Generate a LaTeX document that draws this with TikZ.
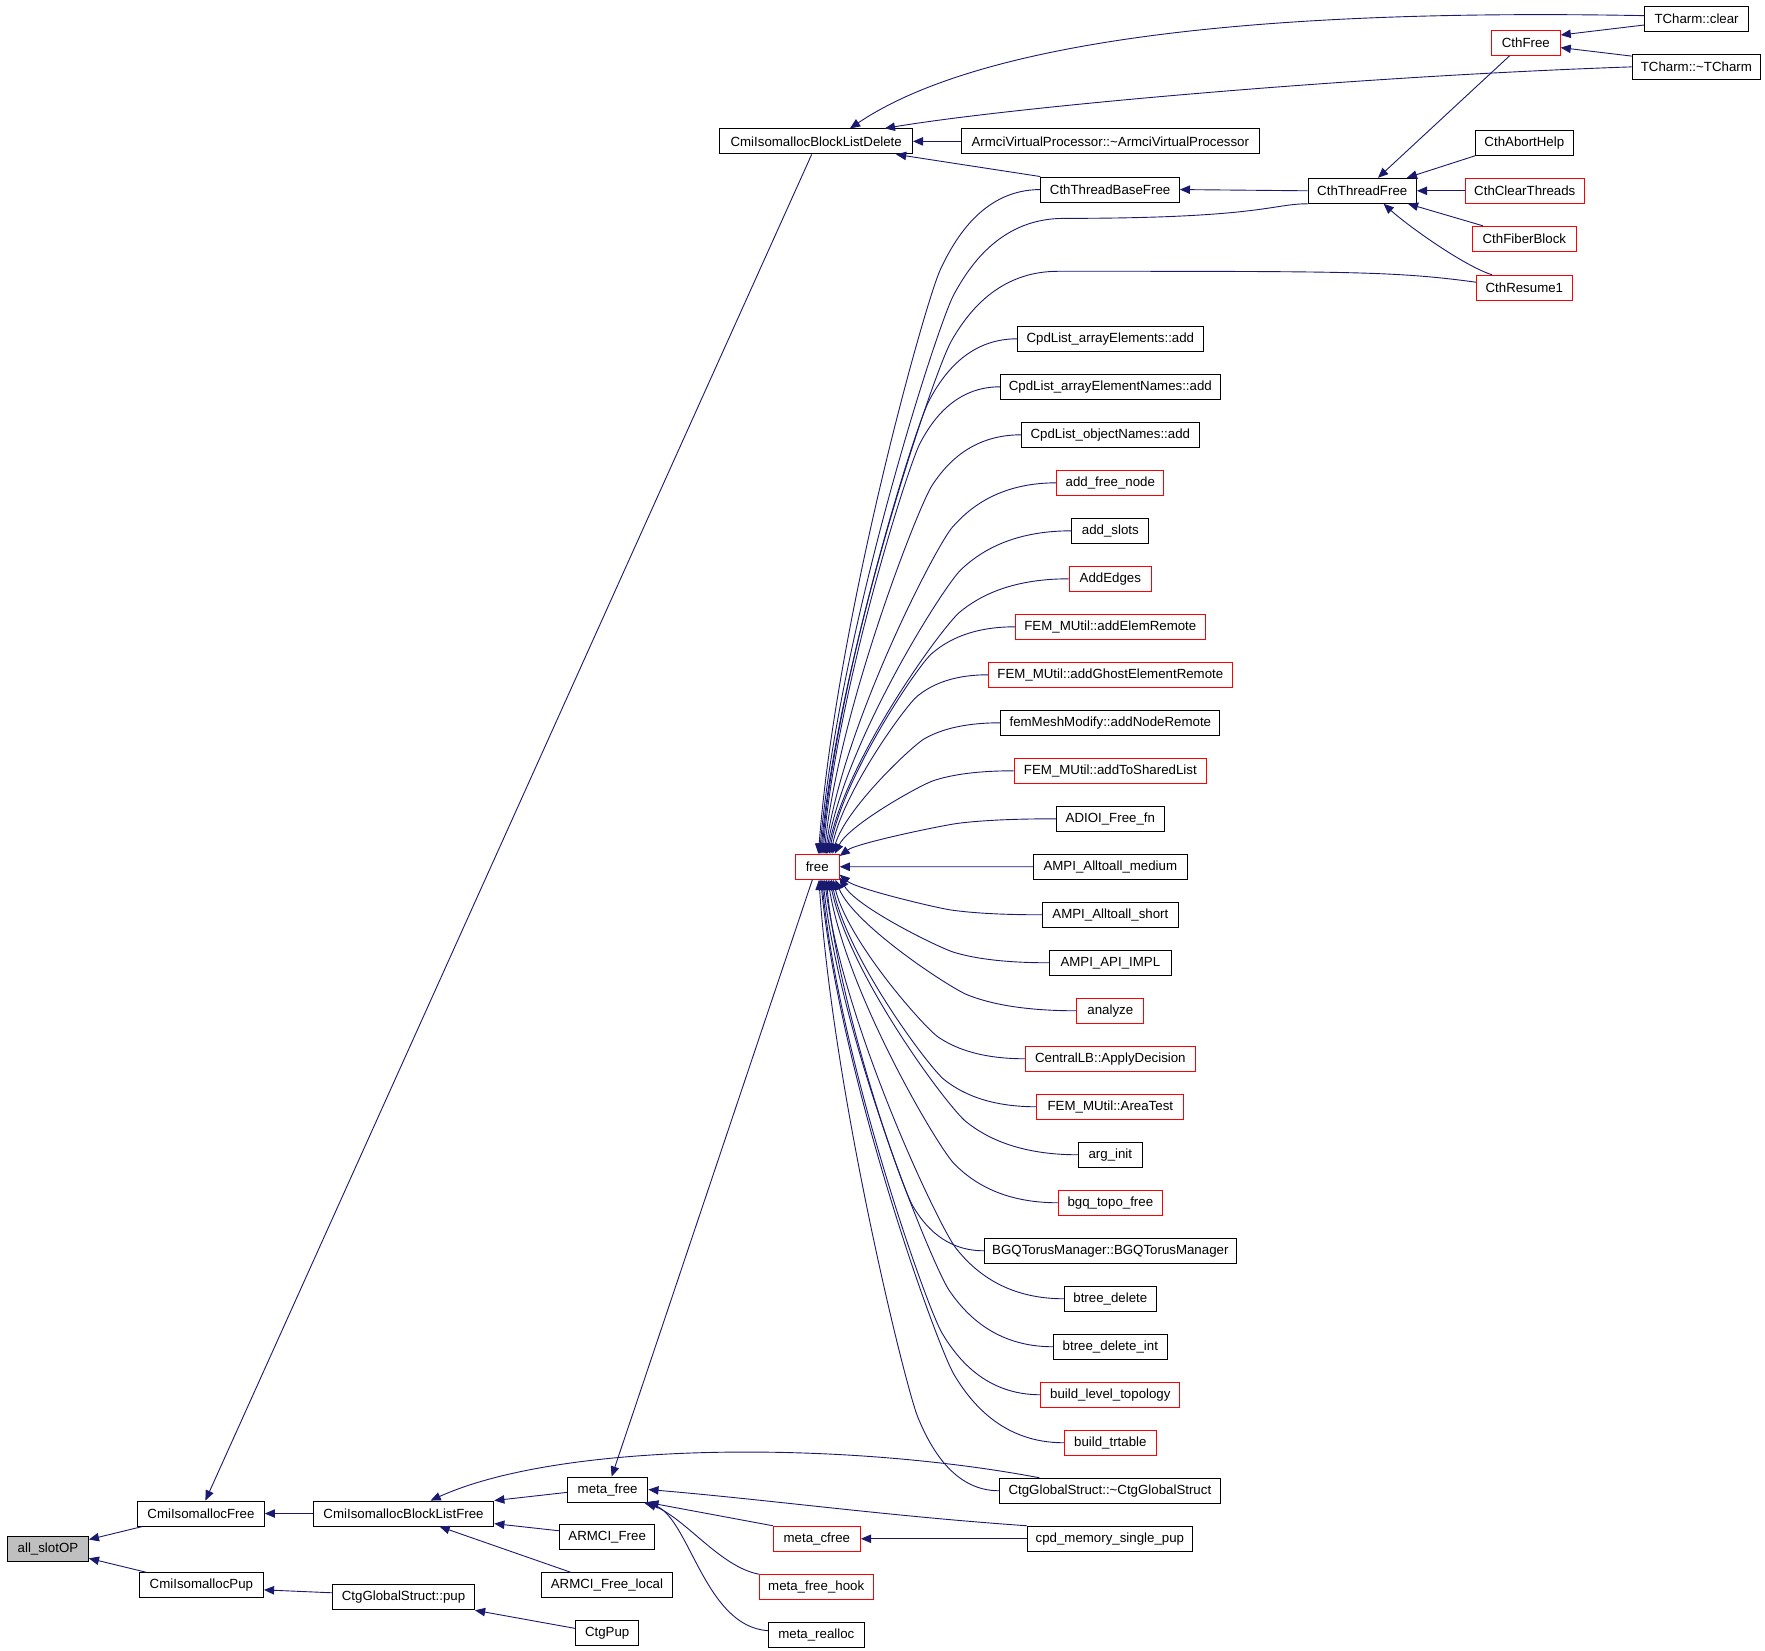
\documentclass[tikz,border=0pt]{standalone}
\usepackage{fontspec}
\newfontfamily\fnt{Liberation Sans}
\usetikzlibrary{arrows.meta,calc}
\definecolor{navy}{HTML}{191970}
\definecolor{boxred}{HTML}{FF0000}
\definecolor{boxgrey}{HTML}{BFBFBF}
\tikzset{
 fn/.style={draw=black, line width=0.9pt, rectangle, fill=white, minimum height=22.2pt, inner sep=0pt, font=\fnt\fontsize{11.8}{14}\selectfont, text=black},
 redfn/.style={fn, draw=boxred},
 edge/.style={draw=navy, line width=0.8pt, -{Triangle[length=9pt,width=7.5pt]}},
 edgeline/.style={draw=navy, line width=0.8pt},
}
\newcommand\fanedge[2]{%
 \draw[edge] let \p1=#1, \p2=#2, \n1={\x1-\x2}, \n2={\y1-\y2} in
  (\p1) .. controls ({\x1-0.25*\n1},{\y1}) and ({\x2+0.62*\n1},{\y1-0.07*\n2}) .. ({\x2+0.55*\n1},{\y1-0.12*\n2})
  .. controls ({\x2+0.48*\n1},{\y1-0.17*\n2}) and ({\x2+0.08*\n1},{\y2+0.35*\n2}) .. (\p2);}
\begin{document}
\begin{tikzpicture}[x=1pt,y=-1pt]
\fill[white] (0,0) rectangle (1568,1466.7);
\useasboundingbox (0,0) rectangle (1568,1466.7);
% nodes
\node[fn, fill=boxgrey, minimum width=71.8pt] (allslot) at (42.6,1376.2) {all\_slotOP};
\node[fn, minimum width=112.6pt] (cmfree) at (178.5,1344.6) {CmiIsomallocFree};
\node[fn, minimum width=110.3pt] (cmpup) at (178.9,1408.4) {CmiIsomallocPup};
\node[fn, minimum width=160.3pt] (blfree) at (358.5,1344.6) {CmiIsomallocBlockListFree};
\node[fn, minimum width=126.1pt] (ctgpup) at (358.5,1419) {CtgGlobalStruct::pup};
\node[fn, minimum width=71.5pt] (metafree) at (539.8,1323.3) {meta\_free};
\node[fn, minimum width=84.8pt] (armcifree) at (539.4,1365.7) {ARMCI\_Free};
\node[fn, minimum width=116.2pt] (armcilocal) at (539.2,1408.4) {ARMCI\_Free\_local};
\node[fn, minimum width=56.3pt] (ctgpupb) at (539.4,1451) {CtgPup};
\node[redfn, minimum width=77.3pt] (metacfree) at (725.7,1367) {meta\_cfree};
\node[redfn, minimum width=101pt] (metahook) at (725.1,1410) {meta\_free\_hook};
\node[fn, minimum width=85.3pt] (metarealloc) at (725.2,1452.6) {meta\_realloc};
\node[redfn, minimum width=39pt] (free) at (726,770) {free};
\node[fn, minimum width=171pt] (bldel) at (725.1,125.6) {CmiIsomallocBlockListDelete};
\node[fn, minimum width=265pt] (armcivp) at (986.4,125.6) {ArmciVirtualProcessor::\textasciitilde ArmciVirtualProcessor};
\node[fn, minimum width=123pt] (ctbfree) at (986.2,168.4) {CthThreadBaseFree};
\node[fn, minimum width=96.3pt] (ctfree) at (1210.2,169.5) {CthThreadFree};
\node[redfn, minimum width=61pt] (cthfree) at (1355.5,38.1) {CthFree};
\node[fn, minimum width=92pt] (tclear) at (1507.2,16.9) {TCharm::clear};
\node[fn, minimum width=114pt] (tdtor) at (1507,59.4) {TCharm::\textasciitilde TCharm};
\node[fn, minimum width=87pt] (abort) at (1354.2,126.9) {CthAbortHelp};
\node[redfn, minimum width=105.7pt] (clearth) at (1354.6,169.5) {CthClearThreads};
\node[redfn, minimum width=92.4pt] (fiber) at (1354.2,212.2) {CthFiberBlock};
\node[redfn, minimum width=85.2pt] (resume) at (1354.2,255.7) {CthResume1};
% right column
\node[fn, minimum width=165.2pt] (r0) at (986.4,301.0) {CpdList\_arrayElements::add};
\node[fn, minimum width=195.4pt] (r1) at (986.4,343.64) {CpdList\_arrayElementNames::add};
\node[fn, minimum width=158.1pt] (r2) at (986.4,386.28) {CpdList\_objectNames::add};
\node[redfn, minimum width=95.1pt] (r3) at (986.4,428.92) {add\_free\_node};
\node[fn, minimum width=68.4pt] (r4) at (986.4,471.56) {add\_slots};
\node[redfn, minimum width=73.2pt] (r5) at (986.4,514.2) {AddEdges};
\node[redfn, minimum width=168.8pt] (r6) at (986.4,556.84) {FEM\_MUtil::addElemRemote};
\node[redfn, minimum width=216.8pt] (r7) at (986.4,599.48) {FEM\_MUtil::addGhostElementRemote};
\node[fn, minimum width=194.6pt] (r8) at (986.4,642.12) {femMeshModify::addNodeRemote};
\node[redfn, minimum width=170.8pt] (r9) at (986.4,684.76) {FEM\_MUtil::addToSharedList};
\node[fn, minimum width=96pt] (r10) at (986.4,727.4) {ADIOI\_Free\_fn};
\node[fn, minimum width=136.8pt] (r11) at (986.4,770.04) {AMPI\_Alltoall\_medium};
\node[fn, minimum width=120.9pt] (r12) at (986.4,812.68) {AMPI\_Alltoall\_short};
\node[fn, minimum width=108.4pt] (r13) at (986.4,855.32) {AMPI\_API\_IMPL};
\node[redfn, minimum width=59.5pt] (r14) at (986.4,897.96) {analyze};
\node[redfn, minimum width=151pt] (r15) at (986.4,940.6) {CentralLB::ApplyDecision};
\node[redfn, minimum width=130.6pt] (r16) at (986.4,983.24) {FEM\_MUtil::AreaTest};
\node[fn, minimum width=56.9pt] (r17) at (986.4,1025.88) {arg\_init};
\node[redfn, minimum width=92.4pt] (r18) at (986.4,1068.52) {bgq\_topo\_free};
\node[fn, minimum width=223.8pt] (r19) at (986.4,1111.16) {BGQTorusManager::BGQTorusManager};
\node[fn, minimum width=81.8pt] (r20) at (986.4,1153.8) {btree\_delete};
\node[fn, minimum width=101.2pt] (r21) at (986.4,1196.44) {btree\_delete\_int};
\node[redfn, minimum width=123.5pt] (r22) at (986.4,1239.08) {build\_level\_topology};
\node[redfn, minimum width=81.8pt] (r23) at (986.4,1281.72) {build\_trtable};
\node[fn, minimum width=196.3pt] (r24) at (986,1324.36) {CtgGlobalStruct::\textasciitilde CtgGlobalStruct};
\node[fn, minimum width=146.5pt] (r25) at (986,1367.0) {cpd\_memory\_single\_pup};
% left part edges
\draw[edge] ([xshift=4.7pt]cmfree.south west) -- ([yshift=8.5pt]allslot.east);
\draw[edge] ([xshift=7pt]cmpup.north west) -- ([yshift=-8.2pt]allslot.east);
\draw[edge] (blfree.west) -- (cmfree.east);
\draw[edge] ([yshift=4pt]ctgpup.west) -- ([yshift=-4pt]cmpup.east);
\draw[edge] ([yshift=4.4pt]ctgpupb.west) -- (ctgpup.south east);
\draw[edge] ([yshift=-2.5pt]metafree.west) -- (blfree.north east);
\draw[edge] ([yshift=5.8pt]armcifree.west) -- ([yshift=2.6pt]blfree.south east);
\draw[edge] ([xshift=26.6pt]armcilocal.north west) -- ([xshift=32pt]blfree.south);
\draw[edge] ([xshift=36pt]r24.north west) .. controls (750,1280) and (500,1280) .. ([xshift=24pt]blfree.north);
\draw[edge] ([xshift=-4pt]bldel.south) -- ([xshift=4pt]cmfree.north);
\draw[edge] ([xshift=-4.3pt]free.south) -- ([xshift=3.6pt]metafree.north);
\draw[edge] (r25.north west) .. controls (790,1347) and (680,1332) .. (metafree.east);
\draw[edge] (metacfree.north west) -- (metafree.south east);
\draw[edge] (metahook.north west) .. controls (640,1392) and (610,1350) .. ([xshift=-2pt]metafree.south east);
\draw[edge] ([yshift=4pt]metarealloc.west) .. controls (625,1445) and (612,1345) .. ([xshift=-4pt]metafree.south east);
\draw[edge] (r25.west) -- (metacfree.east);
% top part edges
\draw[edge] ([yshift=3pt]tclear.west) .. controls (1150,8) and (880,30) .. ([xshift=30pt]bldel.north);
\draw[edge] (tdtor.west) .. controls (1200,68) and (900,95) .. ([xshift=-25pt]bldel.north east);
\draw[edge] (armcivp.west) -- (bldel.east);
\draw[edge] (ctbfree.north west) -- ([xshift=-15pt]bldel.south east);
\draw[edge] (ctfree.west) -- (ctbfree.east);
\draw[edge] ([xshift=-14.5pt]cthfree.south) -- ([xshift=14pt]ctfree.north);
\draw[edge] (abort.south west) -- ([xshift=-9pt]ctfree.north east);
\draw[edge] (clearth.west) -- (ctfree.east);
\draw[edge] ([xshift=10pt]fiber.north west) -- ([xshift=-8pt]ctfree.south east);
\draw[edge] ([xshift=14.4pt]resume.north west) .. controls (1300,236) and (1250,200) .. ([xshift=19pt]ctfree.south);
\draw[edge] ([yshift=-5.3pt]tclear.west) -- ([yshift=7pt]cthfree.east);
\draw[edge] ([yshift=-2pt]tdtor.north west) -- ([yshift=-4.2pt]cthfree.east);
% fan into free
\coordinate (ctfb) at (945,194);
\coordinate (crb) at (940,241);
\draw[edgeline] (ctfree.south west) .. controls (1130,181) and (1120,194) .. (ctfb);
\draw[edgeline] ([yshift=5pt]resume.west) .. controls (1240,241) and (1200,241) .. (crb);
\fanedge{(ctbfree.west)}{([xshift=21pt]free.north west)}
\fanedge{(ctfb)}{([xshift=22pt]free.north west)}
\fanedge{(crb)}{([xshift=23pt]free.north west)}
\fanedge{(r0.west)}{([xshift=24pt]free.north west)}
\fanedge{(r1.west)}{([xshift=25pt]free.north west)}
\fanedge{(r2.west)}{([xshift=26pt]free.north west)}
\fanedge{(r3.west)}{([xshift=27pt]free.north west)}
\fanedge{(r4.west)}{([xshift=28pt]free.north west)}
\fanedge{(r5.west)}{([xshift=29pt]free.north west)}
\fanedge{(r6.west)}{([xshift=30.5pt]free.north west)}
\fanedge{(r7.west)}{([xshift=32pt]free.north west)}
\fanedge{(r8.west)}{([xshift=33.5pt]free.north west)}
\fanedge{(r9.west)}{([xshift=35.5pt]free.north west)}
\fanedge{(r10.west)}{([yshift=-2pt]free.north east)}
\fanedge{(r11.west)}{(free.east)}
\fanedge{(r12.west)}{([yshift=-7pt]free.east)}
\fanedge{(r13.west)}{([yshift=2pt]free.south east)}
\fanedge{(r14.west)}{([xshift=36pt]free.south west)}
\fanedge{(r15.west)}{([xshift=34pt]free.south west)}
\fanedge{(r16.west)}{([xshift=32.5pt]free.south west)}
\fanedge{(r17.west)}{([xshift=31pt]free.south west)}
\fanedge{(r18.west)}{([xshift=29.5pt]free.south west)}
\fanedge{(r19.west)}{([xshift=28pt]free.south west)}
\fanedge{(r20.west)}{([xshift=26.5pt]free.south west)}
\fanedge{(r21.west)}{([xshift=25pt]free.south west)}
\fanedge{(r22.west)}{([xshift=24pt]free.south west)}
\fanedge{(r23.west)}{([xshift=23pt]free.south west)}
\fanedge{(r24.west)}{([xshift=21.5pt]free.south west)}
\end{tikzpicture}
\end{document}
